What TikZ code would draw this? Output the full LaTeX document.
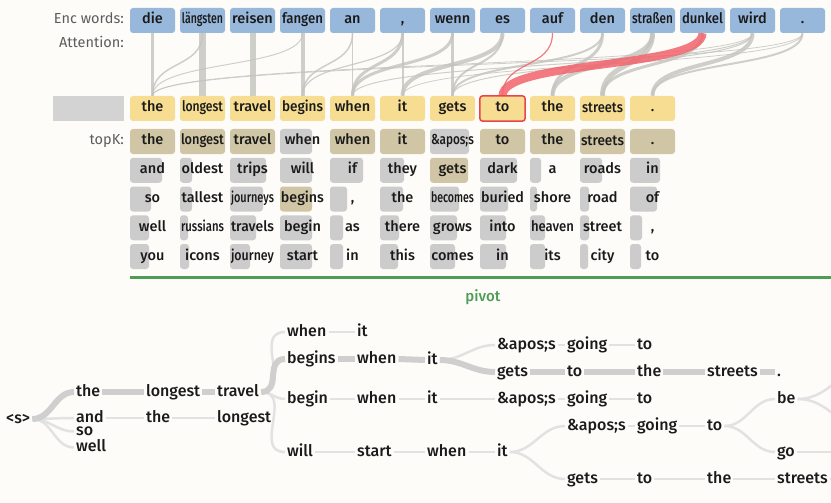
\documentclass[tikz,border=0pt]{standalone}
\usepackage{fontspec}
\setmainfont{Fira Sans}
\newfontfamily\semib{Fira Sans Medium}
\usepackage{graphicx}
\definecolor{bgc}{HTML}{FDFCF9}
\definecolor{encb}{HTML}{97B7DB}
\definecolor{decy}{HTML}{F6DD91}
\definecolor{tan}{HTML}{D0C5A4}
\definecolor{cellg}{HTML}{CCCCCC}
\definecolor{boxg}{HTML}{D3D3D3}
\definecolor{redc}{HTML}{E9444E}
\definecolor{redl}{HTML}{F2646D}
\definecolor{attg}{HTML}{C4C4BF}
\definecolor{greenc}{HTML}{4E9D56}
\definecolor{treel}{HTML}{E2E2E2}
\definecolor{treek}{HTML}{CFCFCF}
\definecolor{lblc}{HTML}{5C5C5C}
\definecolor{txt}{HTML}{1A1A1A}
\newsavebox\fitbox
\newcommand\fitw[2]{\sbox\fitbox{#2}\ifdim\wd\fitbox>#1\relax\resizebox{#1}{\height}{\usebox\fitbox}\else\usebox\fitbox\fi}
\pgfdeclarelayer{bgl}
\pgfdeclarelayer{back}
\pgfsetlayers{bgl,back,main}
\tikzset{
  cellfont/.style={font=\semib\fontsize{14.5}{14.5}\selectfont, text=txt, text height=10pt, text depth=3pt},
  enc/.style={cellfont, fill=encb, rounded corners=3pt, minimum width=45pt, minimum height=25pt, inner sep=0pt},
  dec/.style={cellfont, fill=decy, rounded corners=3pt, minimum width=45pt, minimum height=25pt, inner sep=0pt},
  kcell/.style={cellfont, minimum width=45pt, minimum height=25pt, inner sep=0pt},
  lbl/.style={anchor=east, inner sep=0pt, font=\fontsize{14.5}{14.5}\selectfont, text=lblc, text height=10pt, text depth=3pt},
  att/.style={draw=attg, opacity=0.8},
  attr/.style={draw=redl, opacity=0.85},
  tw/.style={anchor=west, inner xsep=2pt, inner ysep=0pt, font=\semib\fontsize{16}{16}\selectfont, text=txt, text height=11pt, text depth=3pt},
  twsmall/.style={tw, text height=9pt, text depth=1pt},
  tl/.style={draw=treel, line width=2.5pt},
  tk/.style={draw=treek, line width=6pt},
}
\newcommand\kc[5]{%
  \fill[#5, rounded corners=3pt] ({130+50*#1},{129+28.75*#2}) rectangle ++(#4,25);
  \node[kcell] (k#1r#2) at ({152.5+50*#1},{141.5+28.75*#2}) {\fitw{43pt}{#3}};}
\begin{document}
\begin{tikzpicture}[x=1pt,y=-1pt]
\begin{pgfonlayer}{bgl}
\fill[bgc] (0,0) rectangle (831,503);
\end{pgfonlayer}
\useasboundingbox (0,0) rectangle (831,503);
\clip (0,0) rectangle (831,503);

% labels
\node[lbl] (lenc) at (124,20.5) {Enc words:};
\node[lbl] (latt) at (124,44) {Attention:};
\node[lbl] (ltopk) at (124,141.5) {topK:};

% encoder words
\foreach \w [count=\i from 0] in {die,längsten,reisen,fangen,an,{,},wenn,es,auf,den,straßen,dunkel,wird,.}
  {\node[enc] (e\i) at ({152.5+50*\i},20.5) {\fitw{41pt}{\w}};}

% decoder words
\node[fill=boxg, minimum width=71pt, minimum height=25pt, inner sep=0pt] (blank) at (88.5,108.5) {};
\foreach \w [count=\i from 0] in {the,longest,travel,begins,when,it,gets,to,the,streets,.}
  {\node[dec] (d\i) at ({152.5+50*\i},108.5) {\fitw{41pt}{\w}};}
\draw[redc, line width=1.5pt, rounded corners=3pt] (d7.north west) rectangle (d7.south east);

% attention
\begin{pgfonlayer}{back}
\foreach \a/\b/\w in {0/0/3, 1/0/1.5, 3/0/1, 12/0/0.8, 13/0/0.8, 1/1/7, 2/2/6, 3/3/4, 4/3/1.5, 5/3/1.2,
  4/4/1.5, 5/4/3, 6/4/3, 12/4/1, 5/5/2, 7/5/4, 13/5/0.8, 6/6/2.5, 7/6/2, 9/6/2, 12/6/1,
  9/8/3, 10/8/4, 10/9/5, 11/9/3, 12/10/4, 13/10/2}
  {\draw[att, line width=\w pt] (e\a.south) .. controls +(0,36) and +(0,-36) .. (d\b.north);}
\draw[attr, line width=1.2pt] (e8.south) .. controls +(0,36) and +(0,-36) .. (d7.north);
\draw[attr, line width=8pt] (e11.south) .. controls +(0,36) and +(0,-36) .. (d7.north);
\end{pgfonlayer}

% topK
\kc{0}{0}{the}{45}{tan}\kc{0}{1}{and}{32}{cellg}\kc{0}{2}{so}{21}{cellg}\kc{0}{3}{well}{19}{cellg}\kc{0}{4}{you}{19}{cellg}
\kc{1}{0}{longest}{45}{tan}\kc{1}{1}{oldest}{12}{cellg}\kc{1}{2}{tallest}{12}{cellg}\kc{1}{3}{russians}{8}{cellg}\kc{1}{4}{icons}{9}{cellg}
\kc{2}{0}{travel}{45}{tan}\kc{2}{1}{trips}{36}{cellg}\kc{2}{2}{journeys}{33}{cellg}\kc{2}{3}{travels}{26}{cellg}\kc{2}{4}{journey}{20}{cellg}
\kc{3}{0}{when}{32}{cellg}\kc{3}{1}{will}{32}{cellg}\kc{3}{2}{begins}{32}{tan}\kc{3}{3}{begin}{32}{cellg}\kc{3}{4}{start}{32}{cellg}
\kc{4}{0}{when}{45}{tan}\kc{4}{1}{if}{33}{cellg}\kc{4}{2}{,}{17}{cellg}\kc{4}{3}{as}{13}{cellg}\kc{4}{4}{in}{13}{cellg}
\kc{5}{0}{it}{45}{tan}\kc{5}{1}{they}{24}{cellg}\kc{5}{2}{the}{23}{cellg}\kc{5}{3}{there}{19}{cellg}\kc{5}{4}{this}{18}{cellg}
\kc{6}{0}{\&apos;s}{39}{cellg}\kc{6}{1}{gets}{38}{tan}\kc{6}{2}{becomes}{29}{cellg}\kc{6}{3}{grows}{27}{cellg}\kc{6}{4}{comes}{25}{cellg}
\kc{7}{0}{to}{45}{tan}\kc{7}{1}{dark}{37}{cellg}\kc{7}{2}{buried}{28}{cellg}\kc{7}{3}{into}{26}{cellg}\kc{7}{4}{in}{26}{cellg}
\kc{8}{0}{the}{45}{tan}\kc{8}{1}{a}{11}{cellg}\kc{8}{2}{shore}{7}{cellg}\kc{8}{3}{heaven}{15}{cellg}\kc{8}{4}{its}{15}{cellg}
\kc{9}{0}{streets}{45}{tan}\kc{9}{1}{roads}{22}{cellg}\kc{9}{2}{road}{9}{cellg}\kc{9}{3}{street}{9}{cellg}\kc{9}{4}{city}{8}{cellg}
\kc{10}{0}{.}{45}{tan}\kc{10}{1}{in}{30}{cellg}\kc{10}{2}{of}{27}{cellg}\kc{10}{3}{,}{12}{cellg}\kc{10}{4}{to}{11}{cellg}

% pivot line
\coordinate (gl) at (130,277);
\coordinate (gr) at (831,277);
\draw[greenc, line width=3pt] (gl) -- (gr);
\node[text=greenc, font=\semib\fontsize{15}{15}\selectfont, inner sep=0pt] (pivot) at (483,297) {pivot};

% tree nodes
\node[tw] (s) at (4,419) {<s>};
\node[tw] (t1) at (74,392) {the};
\node[tw] (a1) at (74,418) {and};
\node[twsmall] (so1) at (74,431.5) {so};
\node[twsmall] (we1) at (74,447.5) {well};
\node[tw] (lo1) at (144,392) {longest};
\node[tw] (th3) at (144,418) {the};
\node[tw] (tr1) at (215,392) {travel};
\node[tw] (lo3) at (215,418) {longest};
\node[tw] (wh1) at (285,332) {when};
\node[tw] (bg) at (285,359) {begins};
\node[tw] (bn) at (285,399) {begin};
\node[tw] (wi) at (285,452) {will};
\node[tw] (it1) at (355,332) {it};
\node[tw] (wh2) at (355,359) {when};
\node[tw] (wh4) at (355,399) {when};
\node[tw] (sta) at (355,452) {start};
\node[tw] (it2) at (425,360) {it};
\node[tw] (it4) at (425,399) {it};
\node[tw] (wh5) at (425,452) {when};
\node[tw] (ap2) at (495,345) {\&apos;s};
\node[tw] (ge2) at (495,372) {gets};
\node[tw] (ap4) at (495,399) {\&apos;s};
\node[tw] (it5) at (495,452) {it};
\node[tw] (go2) at (565,345) {going};
\node[tw] (to2) at (565,372) {to};
\node[tw] (go4) at (565,399) {going};
\node[tw] (ap5) at (565,426) {\&apos;s};
\node[tw] (ge6) at (565,479) {gets};
\node[tw] (to2b) at (635,345) {to};
\node[tw] (th2) at (635,372) {the};
\node[tw] (to4) at (635,399) {to};
\node[tw] (go5) at (635,426) {going};
\node[tw] (to6) at (635,479) {to};
\node[tw] (st2) at (705,372) {streets};
\node[tw] (to5) at (705,426) {to};
\node[tw] (th6) at (705,479) {the};
\node[tw] (dot) at (775,372) {.};
\node[tw] (be) at (775,399) {be};
\node[tw] (gg) at (775,452) {go};
\node[tw] (st6) at (775,479) {streets};
\coordinate (r1) at (880,360);
\coordinate (r2) at (880,438);
\coordinate (r3) at (840,452);
\coordinate (r4) at (840,479);

% tree edges
\begin{pgfonlayer}{back}
\draw[tl] (s.east) to[out=0,in=180] (a1.west);
\draw[tl] (s.east) to[out=0,in=180] (so1.west);
\draw[tl] (s.east) to[out=0,in=180] (we1.west);
\draw[tl] (a1.east) -- (th3.west);
\draw[tl] (th3.east) -- (lo3.west);
\draw[tl] (tr1.east) to[out=0,in=180,looseness=1.3] (wh1.west);
\draw[tl] (tr1.east) to[out=0,in=180] (bn.west);
\draw[tl] (tr1.east) to[out=0,in=180,looseness=1.3] (wi.west);
\draw[tl] (wh1.east) -- (it1.west);
\draw[tl] (bn.east) -- (wh4.west);
\draw[tl] (wh4.east) -- (it4.west);
\draw[tl] (it4.east) -- (ap4.west);
\draw[tl] (ap4.east) -- (go4.west);
\draw[tl] (go4.east) -- (to4.west);
\draw[tl] (it2.east) to[out=0,in=180] (ap2.west);
\draw[tl] (ap2.east) -- (go2.west);
\draw[tl] (go2.east) -- (to2b.west);
\draw[tl] (wi.east) -- (sta.west);
\draw[tl] (sta.east) -- (wh5.west);
\draw[tl] (wh5.east) -- (it5.west);
\draw[tl] (it5.east) to[out=0,in=180] (ap5.west);
\draw[tl] (it5.east) to[out=0,in=180] (ge6.west);
\draw[tl] (ap5.east) -- (go5.west);
\draw[tl] (go5.east) -- (to5.west);
\draw[tl] (to5.east) to[out=0,in=180] (be.west);
\draw[tl] (to5.east) to[out=0,in=180] (gg.west);
\draw[tl] (ge6.east) -- (to6.west);
\draw[tl] (to6.east) -- (th6.west);
\draw[tl] (th6.east) -- (st6.west);
\draw[tl] (st6.east) -- (r4);
\draw[tl] (gg.east) -- (r3);
\draw[tl] (be.east) to[out=0,in=180] (r1);
\draw[tl] (be.east) to[out=0,in=180] (r2);
\draw[tk] (s.east) to[out=0,in=180] (t1.west);
\draw[tk] (t1.east) -- (lo1.west);
\draw[tk] (lo1.east) -- (tr1.west);
\draw[tk] (tr1.east) to[out=0,in=180,looseness=1.3] (bg.west);
\draw[tk] (bg.east) -- (wh2.west);
\draw[tk] (wh2.east) -- (it2.west);
\draw[tk] (it2.east) to[out=0,in=180] (ge2.west);
\draw[tk] (ge2.east) -- (to2.west);
\draw[tk] (to2.east) -- (th2.west);
\draw[tk] (th2.east) -- (st2.west);
\draw[tk] (st2.east) -- (dot.west);
\end{pgfonlayer}
\end{tikzpicture}
\end{document}
